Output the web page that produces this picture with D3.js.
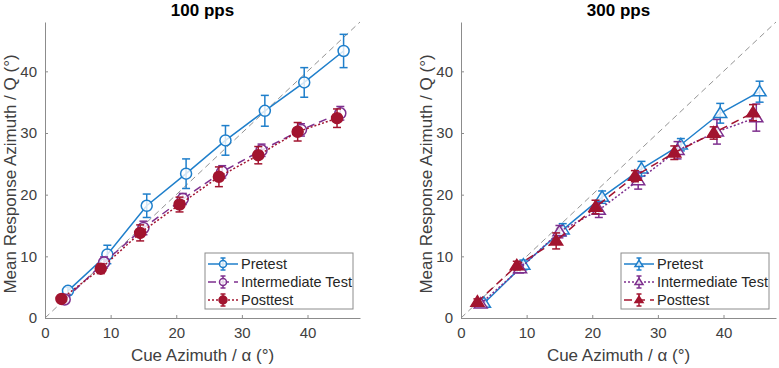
<!DOCTYPE html>
<html>
<head>
<meta charset="utf-8">
<script src="https://cdn.jsdelivr.net/npm/d3@7"></script>
<style>
  body { margin: 0; background: #fff; }
  text { font-family: "Liberation Sans", Arial, sans-serif; }
</style>
</head>
<body>
<div id="chart"></div>
<script>
// data (cue azimuth positions are offset per session)
var cues = [3, 9, 15, 21, 27, 33, 39, 45];
var xTicks = [0, 10, 20, 30, 40];
var yTicks = [0, 10, 20, 30, 40];

// 100 pps
var pre100 = [4.4, 10.3, 18.2, 23.4, 28.8, 33.6, 38.2, 43.3];
var pre100Err = [0.6, 1.5, 1.9, 2.4, 2.4, 2.5, 2.4, 2.7];
var mid100 = [3.0, 9.0, 14.6, 19.3, 23.7, 27.2, 30.5, 33.2];
var mid100Err = [0.4, 0.9, 1.1, 0.9, 1.0, 1.0, 1.0, 1.1];
var post100 = [3.1, 8.0, 13.8, 18.4, 22.9, 26.4, 30.2, 32.4];
var post100Err = [0.5, 0.8, 1.3, 1.2, 1.6, 1.4, 1.5, 1.5];

// 300 pps
var pre300 = [2.4, 8.6, 14.3, 19.6, 24.2, 28.1, 33.2, 36.7];
var pre300Err = [0.5, 0.8, 1.0, 1.0, 1.2, 1.0, 1.6, 1.7];
var mid300 = [2.3, 8.0, 14.0, 17.5, 22.3, 27.2, 30.2, 32.5];
var mid300Err = [0.5, 0.7, 1.0, 1.2, 1.4, 1.4, 2.0, 2.2];
var post300 = [2.6, 8.5, 12.5, 18.0, 23.0, 26.8, 30.0, 33.3];
var post300Err = [0.5, 0.7, 1.3, 1.1, 0.9, 1.1, 1.0, 1.3];

var blue = "#1f7fcb", purple = "#7E2F8E", red = "#A2142F";

var svg = d3.select("#chart").append("svg")
    .attr("width", 779)
    .attr("height", 368);

var panels = [
  { title: "100 pps", left: 45, right: 360, marker: "circle",
    series: [
      { name: "Pretest", vals: pre100, err: pre100Err, off: 0.5, color: blue, dash: null, fill: false, r: 5.5, lr: 3.5 },
      { name: "Intermediate Test", vals: mid100, err: mid100Err, off: 0, color: purple, dash: "8,5", fill: false, r: 5.5, lr: 3.5 },
      { name: "Posttest", vals: post100, err: post100Err, off: -0.5, color: red, dash: "2,2", fill: true, r: 5.5, lr: 4 }
    ] },
  { title: "300 pps", left: 461, right: 776, marker: "triangle",
    series: [
      { name: "Pretest", vals: pre300, err: pre300Err, off: 0.5, color: blue, dash: null, fill: false, r: 6.5, lr: 4 },
      { name: "Intermediate Test", vals: mid300, err: mid300Err, off: 0, color: purple, dash: "2,2", fill: false, r: 6.5, lr: 4 },
      { name: "Posttest", vals: post300, err: post300Err, off: -0.5, color: red, dash: "8,5", fill: true, r: 6.5, lr: 4 }
    ] }
];

var plotTop = 22, plotBottom = 318;

function markerPath(type, r) {
  if (type === "circle") return d3.symbol().type(d3.symbolCircle).size(Math.PI * r * r)();
  // upward triangle with centroid at 0
  var h = r * 1.6;
  return "M0," + (-h * 0.6) + "L" + (r) + "," + (h * 0.4) + "L" + (-r) + "," + (h * 0.4) + "Z";
}

panels.forEach(function(p) {
  var x = d3.scaleLinear().domain([0, 48]).range([p.left, p.right]);
  var y = d3.scaleLinear().domain([0, 48]).range([plotBottom, plotTop]);
  var g = svg.append("g");

  // identity line
  g.append("line")
    .attr("x1", x(0)).attr("y1", y(0))
    .attr("x2", x(48)).attr("y2", y(48))
    .attr("stroke", "#777").attr("stroke-width", 0.8)
    .attr("stroke-dasharray", "6,4");

  // axes (ticks inward)
  var xa = g.append("g")
    .attr("transform", "translate(0," + plotBottom + ")")
    .call(d3.axisBottom(x).tickValues(xTicks).tickSizeInner(-3).tickSizeOuter(0).tickPadding(9));
  var ya = g.append("g")
    .attr("transform", "translate(" + p.left + ",0)")
    .call(d3.axisLeft(y).tickValues(yTicks).tickSizeInner(-3).tickSizeOuter(0).tickPadding(8));
  [xa, ya].forEach(function(a) {
    a.select(".domain").attr("stroke", "#8c8c8c");
    a.selectAll(".tick line").attr("stroke", "#8c8c8c");
    a.selectAll(".tick text").attr("fill", "#404040").style("font-size", "15px")
      .style("font-family", "'Liberation Sans', Arial, sans-serif");
  });

  // title
  g.append("text")
    .attr("x", (p.left + p.right) / 2)
    .attr("y", 16)
    .attr("text-anchor", "middle")
    .style("font-size", "17px")
    .style("font-weight", "bold")
    .text(p.title);

  // axis labels
  g.append("text")
    .attr("x", (p.left + p.right) / 2)
    .attr("y", 361)
    .attr("text-anchor", "middle")
    .attr("fill", "#404040")
    .style("font-size", "17px")
    .text("Cue Azimuth / α (°)");
  g.append("text")
    .attr("transform", "translate(" + (p.left - 29) + "," + ((plotTop + plotBottom) / 2 + 4) + ") rotate(-90)")
    .attr("text-anchor", "middle")
    .attr("fill", "#404040")
    .style("font-size", "17px")
    .text("Mean Response Azimuth / Q (°)");

  // series, drawn pretest first so posttest sits on top
  p.series.forEach(function(s) {
    var pts = cues.map(function(c, i) { return { x: c + s.off, y: s.vals[i], e: s.err[i] }; });
    var sg = g.append("g");
    sg.append("path")
      .datum(pts)
      .attr("fill", "none")
      .attr("stroke", s.color)
      .attr("stroke-width", 1.5)
      .attr("stroke-dasharray", s.dash)
      .attr("d", d3.line().x(function(d) { return x(d.x); }).y(function(d) { return y(d.y); }));
    var eb = sg.selectAll(".eb").data(pts).enter().append("g")
      .attr("stroke", s.color).attr("stroke-width", 1.5);
    eb.append("line")
      .attr("x1", function(d) { return x(d.x); }).attr("x2", function(d) { return x(d.x); })
      .attr("y1", function(d) { return y(d.y + d.e); }).attr("y2", function(d) { return y(d.y - d.e); });
    eb.append("line")
      .attr("x1", function(d) { return x(d.x) - 4; }).attr("x2", function(d) { return x(d.x) + 4; })
      .attr("y1", function(d) { return y(d.y + d.e); }).attr("y2", function(d) { return y(d.y + d.e); });
    eb.append("line")
      .attr("x1", function(d) { return x(d.x) - 4; }).attr("x2", function(d) { return x(d.x) + 4; })
      .attr("y1", function(d) { return y(d.y - d.e); }).attr("y2", function(d) { return y(d.y - d.e); });
    sg.selectAll(".mk").data(pts).enter().append("path")
      .attr("transform", function(d) { return "translate(" + x(d.x) + "," + y(d.y) + ")"; })
      .attr("d", markerPath(p.marker, s.r))
      .attr("fill", s.fill ? s.color : "#fff")
      .attr("fill-opacity", s.fill ? 1 : 0.8)
      .attr("stroke", s.color)
      .attr("stroke-width", 1.5);
  });

  // legend
  var lx = p.right - 155, ly = 253, lw = 148, lh = 56;
  var lg = g.append("g").attr("transform", "translate(" + lx + "," + ly + ")");
  lg.append("rect")
    .attr("width", lw).attr("height", lh)
    .attr("fill", "#fff").attr("stroke", "#8c8c8c").attr("stroke-width", 1);
  p.series.forEach(function(s, i) {
    var yy = 11 + i * 18;
    var row = lg.append("g").attr("transform", "translate(0," + yy + ")");
    row.append("line")
      .attr("x1", 3).attr("x2", 33).attr("y1", 0).attr("y2", 0)
      .attr("stroke", s.color).attr("stroke-width", 1.5)
      .attr("stroke-dasharray", s.dash);
    row.append("line")
      .attr("x1", 18).attr("x2", 18).attr("y1", -6).attr("y2", 6)
      .attr("stroke", s.color).attr("stroke-width", 1.5);
    row.append("line").attr("x1", 15.5).attr("x2", 20.5).attr("y1", -6).attr("y2", -6)
      .attr("stroke", s.color).attr("stroke-width", 1.5);
    row.append("line").attr("x1", 15.5).attr("x2", 20.5).attr("y1", 6).attr("y2", 6)
      .attr("stroke", s.color).attr("stroke-width", 1.5);
    row.append("path")
      .attr("transform", "translate(18,0)")
      .attr("d", markerPath(p.marker, s.lr))
      .attr("fill", s.fill ? s.color : "#fff")
      .attr("fill-opacity", s.fill ? 1 : 0.8)
      .attr("stroke", s.color).attr("stroke-width", 1.5);
    row.append("text")
      .attr("x", 36).attr("y", 5)
      .attr("fill", "#262626")
      .style("font-size", "14.5px")
      .text(s.name);
  });
});
</script>
</body>
</html>
